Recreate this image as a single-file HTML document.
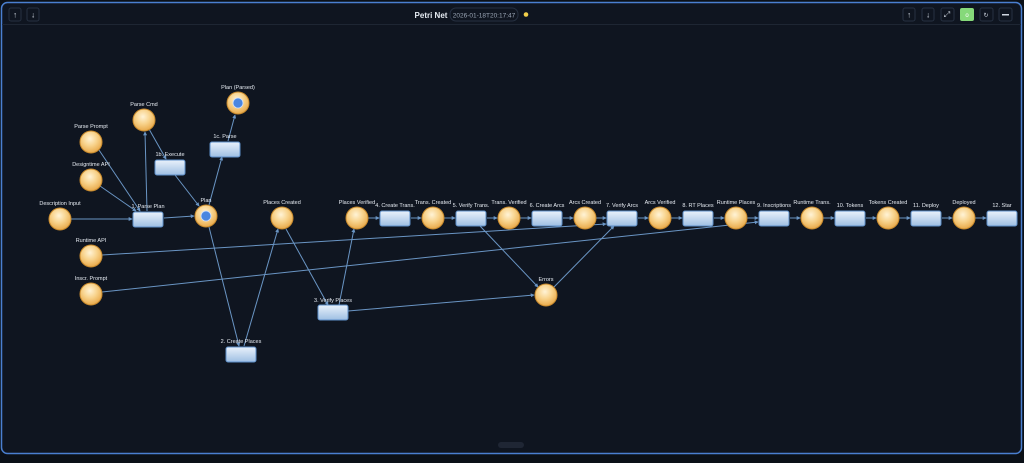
<!DOCTYPE html>
<html><head><meta charset="utf-8"><style>
html,body{margin:0;padding:0;background:#0b1017;width:1024px;height:463px;overflow:hidden;font-family:"Liberation Sans",sans-serif}
svg text{font-family:"Liberation Sans",sans-serif}
</style></head><body>
<svg width="1024" height="463" viewBox="0 0 1024 463" xmlns="http://www.w3.org/2000/svg">
<defs>
<radialGradient id="pg" cx="45%" cy="35%" r="65%"><stop offset="0" stop-color="#fff3d6"/><stop offset="0.5" stop-color="#f8d38c"/><stop offset="1" stop-color="#e8a94a"/></radialGradient>
<linearGradient id="rg" x1="0" y1="0" x2="0" y2="1"><stop offset="0" stop-color="#e9f1fb"/><stop offset="1" stop-color="#9fbfe3"/></linearGradient>
<marker id="ar" viewBox="0 0 6 6" refX="5" refY="3" markerWidth="4" markerHeight="4" orient="auto"><path d="M0,0L6,3L0,6z" fill="#6a95c4"/></marker>
</defs>
<rect x="1.5" y="2.5" width="1020" height="451" rx="6" fill="#0f1520" stroke="#4a7fd0" stroke-width="1.5"/>
<line x1="2" y1="24.5" x2="1021" y2="24.5" stroke="#1e2633"/>
<!-- header -->
<g fill="none" stroke="#273142"><rect x="9" y="8" width="12" height="13" rx="2"/><rect x="27" y="8" width="12" height="13" rx="2"/>
<rect x="903" y="8" width="12" height="13" rx="2"/><rect x="922" y="8" width="12" height="13" rx="2"/><rect x="941" y="8" width="13" height="13" rx="2"/><rect x="980" y="8" width="13" height="13" rx="2"/><rect x="999" y="8" width="13" height="13" rx="2"/>
<rect x="450" y="8" width="68" height="13" rx="6"/></g>
<rect x="960" y="8" width="14" height="13" rx="2" fill="#86d97a"/>
<g fill="#cfd6e0" font-size="8" text-anchor="middle"><text x="15" y="17.5">↑</text><text x="33" y="17.5">↓</text><text x="909" y="17.5">↑</text><text x="928" y="17.5">↓</text><text x="947" y="17">⤢</text><text x="967" y="17" fill="#fff" font-size="6">o</text><text x="986" y="17" font-size="6">↻</text><rect x="1002" y="14" width="7" height="1.5"/></g>
<text x="431" y="18" fill="#e6ebf2" font-size="8" font-weight="bold" text-anchor="middle">Petri Net</text>
<text x="484" y="17.5" fill="#9aa5b5" font-size="6.5" text-anchor="middle">2026-01-18T20:17:47</text>
<circle cx="526" cy="14.5" r="2.3" fill="#f2cf4a"/>
<rect x="498" y="442" width="26" height="6" rx="3" fill="#1f2634"/>
<!-- edges -->
<g stroke="#6a95c4" stroke-width="1" fill="none" marker-end="url(#ar)">
<line x1="71" y1="219" x2="132" y2="219"/>
<line x1="99" y1="150" x2="140" y2="211"/>
<line x1="100" y1="186" x2="136" y2="211"/>
<line x1="147" y1="211" x2="145" y2="132"/>
<line x1="149" y1="129" x2="166" y2="159"/>
<line x1="175" y1="175" x2="199" y2="206"/>
<line x1="164" y1="218" x2="194" y2="216"/>
<line x1="209" y1="205" x2="222" y2="157"/>
<line x1="228" y1="141" x2="235" y2="115"/>
<line x1="209" y1="227" x2="239" y2="346"/>
<line x1="244" y1="346" x2="278" y2="229"/>
<line x1="286" y1="229" x2="328" y2="305"/>
<line x1="339" y1="305" x2="354" y2="229"/>
<line x1="348" y1="311" x2="534" y2="295"/>
<line x1="480" y1="226" x2="538" y2="287"/>
<line x1="554" y1="287" x2="614" y2="226"/>
<line x1="102" y1="255" x2="606" y2="224"/>
<line x1="102" y1="292" x2="758" y2="222"/>
<line x1="368" y1="218" x2="379" y2="218"/><line x1="411" y1="218" x2="421" y2="218"/>
<line x1="444" y1="218" x2="455" y2="218"/><line x1="487" y1="218" x2="497" y2="218"/>
<line x1="520" y1="218" x2="531" y2="218"/><line x1="563" y1="218" x2="573" y2="218"/>
<line x1="596" y1="218" x2="606" y2="218"/><line x1="638" y1="218" x2="648" y2="218"/>
<line x1="671" y1="218" x2="682" y2="218"/><line x1="714" y1="218" x2="724" y2="218"/>
<line x1="747" y1="218" x2="758" y2="218"/><line x1="790" y1="218" x2="800" y2="218"/>
<line x1="823" y1="218" x2="834" y2="218"/><line x1="866" y1="218" x2="876" y2="218"/>
<line x1="899" y1="218" x2="910" y2="218"/><line x1="942" y1="218" x2="952" y2="218"/>
<line x1="975" y1="218" x2="986" y2="218"/>
</g>
<!-- places -->
<g stroke="#c98b2e" stroke-width="1" fill="url(#pg)">
<circle cx="60" cy="219" r="11"/><circle cx="91" cy="180" r="11"/><circle cx="91" cy="142" r="11"/><circle cx="144" cy="120" r="11"/>
<circle cx="238" cy="103" r="11"/><circle cx="206" cy="216" r="11"/><circle cx="282" cy="218" r="11"/><circle cx="357" cy="218" r="11"/>
<circle cx="433" cy="218" r="11"/><circle cx="509" cy="218" r="11"/><circle cx="585" cy="218" r="11"/><circle cx="660" cy="218" r="11"/>
<circle cx="736" cy="218" r="11"/><circle cx="812" cy="218" r="11"/><circle cx="888" cy="218" r="11"/><circle cx="964" cy="218" r="11"/>
<circle cx="91" cy="256" r="11"/><circle cx="91" cy="294" r="11"/><circle cx="546" cy="295" r="11"/>
</g>
<circle cx="238" cy="103" r="5" fill="#4a86e0" stroke="#cfe0ff" stroke-width="0.8"/>
<circle cx="206" cy="216" r="5" fill="#4a86e0" stroke="#cfe0ff" stroke-width="0.8"/>
<!-- transitions -->
<g stroke="#5d8fc9" stroke-width="1" fill="url(#rg)">
<rect x="133" y="212" width="30" height="15" rx="2"/><rect x="155" y="160" width="30" height="15" rx="2"/><rect x="210" y="142" width="30" height="15" rx="2"/>
<rect x="226" y="347" width="30" height="15" rx="2"/><rect x="318" y="305" width="30" height="15" rx="2"/>
<rect x="380" y="211" width="30" height="15" rx="2"/><rect x="456" y="211" width="30" height="15" rx="2"/><rect x="532" y="211" width="30" height="15" rx="2"/>
<rect x="607" y="211" width="30" height="15" rx="2"/><rect x="683" y="211" width="30" height="15" rx="2"/><rect x="759" y="211" width="30" height="15" rx="2"/>
<rect x="835" y="211" width="30" height="15" rx="2"/><rect x="911" y="211" width="30" height="15" rx="2"/><rect x="987" y="211" width="30" height="15" rx="2"/>
</g>
<!-- labels -->
<g fill="#e6ebf2" font-size="5.5" text-anchor="middle">
<text x="60" y="205">Description Input</text><text x="91" y="166">Designtime API</text><text x="91" y="128">Parse Prompt</text><text x="144" y="106">Parse Cmd</text>
<text x="238" y="89">Plan (Parsed)</text><text x="206" y="202">Plan</text><text x="282" y="204">Places Created</text><text x="357" y="204">Places Verified</text>
<text x="433" y="204">Trans. Created</text><text x="509" y="204">Trans. Verified</text><text x="585" y="204">Arcs Created</text><text x="660" y="204">Arcs Verified</text>
<text x="736" y="204">Runtime Places</text><text x="812" y="204">Runtime Trans.</text><text x="888" y="204">Tokens Created</text><text x="964" y="204">Deployed</text>
<text x="91" y="242">Runtime API</text><text x="91" y="280">Inscr. Prompt</text><text x="546" y="281">Errors</text>
<text x="148" y="208">1. Parse Plan</text><text x="170" y="156">1b. Execute</text><text x="225" y="138">1c. Parse</text>
<text x="241" y="343">2. Create Places</text><text x="333" y="302">3. Verify Places</text>
<text x="395" y="207">4. Create Trans.</text><text x="471" y="207">5. Verify Trans.</text><text x="547" y="207">6. Create Arcs</text>
<text x="622" y="207">7. Verify Arcs</text><text x="698" y="207">8. RT Places</text><text x="774" y="207">9. Inscriptions</text>
<text x="850" y="207">10. Tokens</text><text x="926" y="207">11. Deploy</text><text x="1002" y="207">12. Star</text>
</g>
</svg>
</body></html>
